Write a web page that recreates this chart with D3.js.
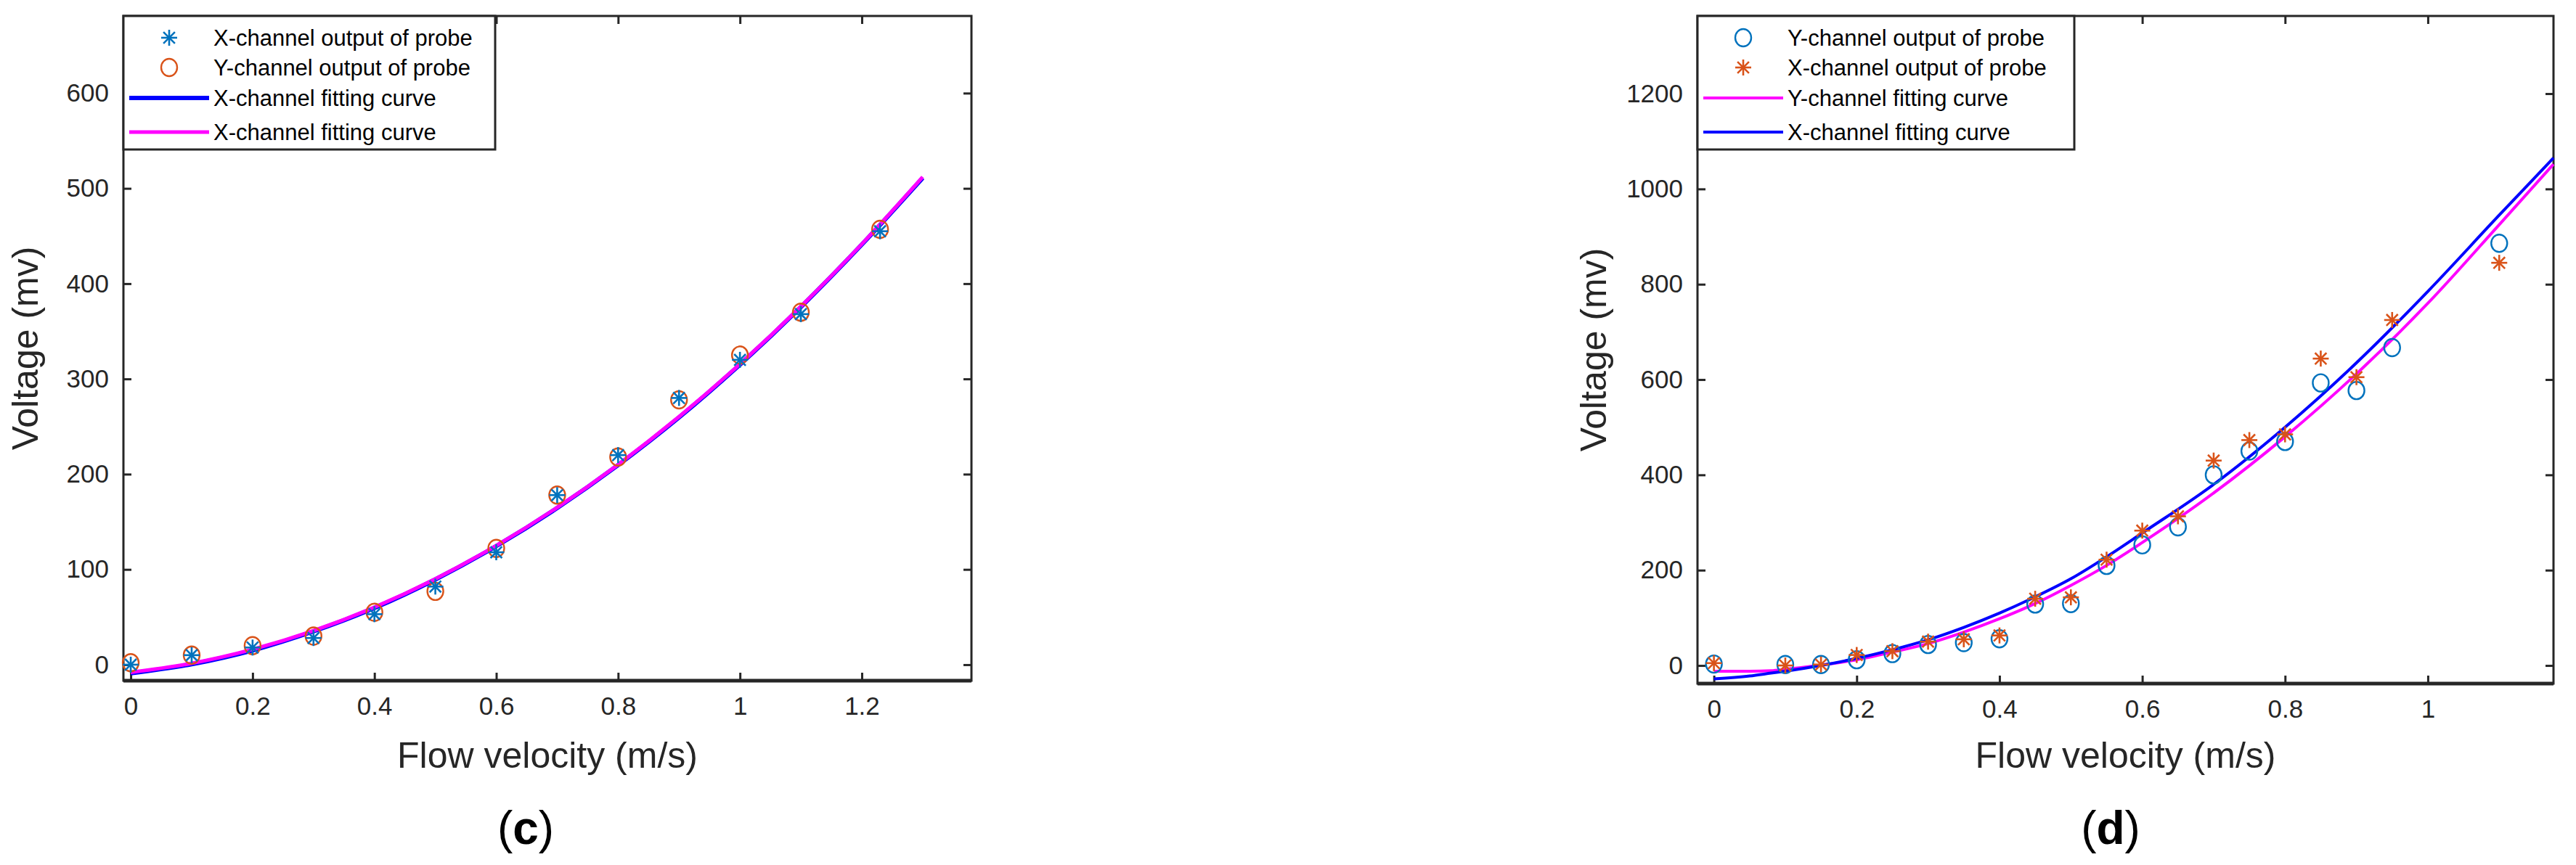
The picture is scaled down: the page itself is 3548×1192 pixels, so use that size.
<!DOCTYPE html>
<html><head><meta charset="utf-8">
<script src="https://cdn.jsdelivr.net/npm/d3@7"></script>
<style>body{margin:0;background:#fff}text{font-family:Arial,"Liberation Sans",sans-serif}</style>
</head><body>
<svg id="c" width="3548" height="1192"></svg>
<script>
// ---- panel (c) data ----
const cX = [0,0.1,0.2,0.3,0.4,0.5,0.6,0.7,0.8,0.9,1.0,1.1,1.23];
const cXch = [0,10,18,28,53,82,118,178,220,280,320,368,455];
const cYch = [2,10,20,30,55,77,122,178,218,278,325,370,457];
const cFitX = [0,0.1,0.2,0.3,0.4,0.5,0.6,0.7,0.8,0.9,1.0,1.1,1.2,1.3];
const cFitBlue = [-9,0.5,15,35,59.5,89.5,124.5,164.5,209.5,259.5,315,375.5,441,511];
const cFitMag = [-8,1.4,16,35.6,60.3,90.1,125,165,210.1,260.3,315.6,376,441.5,512];
const cXTicks = [0,0.2,0.4,0.6,0.8,1,1.2];
const cYTicks = [0,100,200,300,400,500,600];
const cLegend = ["X-channel output of probe","Y-channel output of probe","X-channel fitting curve","X-channel fitting curve"];

// ---- panel (d) data ----
const dX = [0,0.1,0.15,0.2,0.25,0.3,0.35,0.4,0.45,0.5,0.55,0.6,0.65,0.7,0.75,0.8,0.85,0.9,0.95,1.1];
const dYch = [3,2,2,12,25,44,48,56,129,130,210,253,291,400,450,470,593,577,667,886];
const dXch = [5,0,2,22,30,50,55,63,140,143,222,283,313,430,473,485,644,605,725,845];
const dFitX = [0,0.05,0.08,0.1,0.15,0.2,0.25,0.3,0.35,0.4,0.45,0.5,0.55,0.6,0.7,0.8,0.9,1.0,1.1,1.176];
const dFitBlue = [-28,-22,-16,-12,0,15,33,54,80,110,144,182,228,278,380,500,635,785,945,1065];
const dFitMag = [-12,-12,-11,-8,1,12,28,46,70,98,130,168,210,258,362,480,612,760,925,1052];
const dXTicks = [0,0.2,0.4,0.6,0.8,1];
const dYTicks = [0,200,400,600,800,1000,1200];
const dLegend = ["Y-channel output of probe","X-channel output of probe","Y-channel fitting curve","X-channel fitting curve"];

const BLUE="#0072BD", ORANGE="#D95319", LBLUE="#0000FF", MAG="#FF00FF", AX="#262626";
const svg = d3.select("#c");

function star(g,x,y,col){
  const s=11;
  const p=g.append("g").attr("transform",`translate(${x},${y})`).attr("stroke",col).attr("stroke-width",2.6);
  [[-s,0,s,0],[0,-s,0,s],[-s*0.72,-s*0.72,s*0.72,s*0.72],[-s*0.72,s*0.72,s*0.72,-s*0.72]].forEach(l=>
    p.append("line").attr("x1",l[0]).attr("y1",l[1]).attr("x2",l[2]).attr("y2",l[3]));
}
function circ(g,x,y,col){
  g.append("ellipse").attr("cx",x).attr("cy",y).attr("rx",11).attr("ry",12).attr("fill","none").attr("stroke",col).attr("stroke-width",2.4);
}

function panel(o){
  const g = svg.append("g");
  const x = d3.scaleLinear().domain(o.xd).range([o.L,o.R]);
  const y = d3.scaleLinear().domain(o.yd).range([o.B,o.T]);
  const gx = g.append("g").attr("transform",`translate(0,${o.B})`)
    .call(d3.axisBottom(x).tickValues(o.xt).tickSize(-11).tickPadding(22).tickFormat(d3.format("~g")));
  const gy = g.append("g").attr("transform",`translate(${o.L},0)`)
    .call(d3.axisLeft(y).tickValues(o.yt).tickSize(-11).tickPadding(20).tickFormat(d3.format("~g")));
  const gx2 = g.append("g").attr("transform",`translate(0,${o.T})`).call(d3.axisTop(x).tickValues(o.xt).tickSize(-11).tickFormat(""));
  const gy2 = g.append("g").attr("transform",`translate(${o.R},0)`).call(d3.axisRight(y).tickValues(o.yt).tickSize(-11).tickFormat(""));
  [gx,gy,gx2,gy2].forEach(a=>{a.select(".domain").remove();a.selectAll("line").attr("stroke",AX).attr("stroke-width",3);
    a.selectAll("text").attr("fill",AX).attr("font-size",35);});
  g.append("rect").attr("x",o.L).attr("y",o.T).attr("width",o.R-o.L).attr("height",o.B-o.T)
    .attr("fill","none").attr("stroke",AX).attr("stroke-width",3);
  g.append("line").attr("x1",o.L).attr("x2",o.R).attr("y1",o.B).attr("y2",o.B).attr("stroke",AX).attr("stroke-width",5);

  const line = d3.line().x(d=>x(d[0])).y(d=>y(d[1])).curve(d3.curveMonotoneX);
  const clip = g.append("g");
  o.lines.forEach(l=>clip.append("path").attr("d",line(o.fx.map((v,i)=>[v,l.v[i]])))
    .attr("fill","none").attr("stroke",l.c).attr("stroke-width",l.w));
  o.pts.forEach(p=>o.px.forEach((v,i)=>p.f(g,x(v),y(p.v[i]),p.c)));

  // titles
  g.append("text").attr("x",(o.L+o.R)/2).attr("y",1058).attr("text-anchor","middle").attr("font-size",50).attr("fill",AX).text("Flow velocity (m/s)");
  g.append("text").attr("transform",`translate(${o.yl},${(o.T+o.B)/2}) rotate(-90)`).attr("text-anchor","middle")
    .attr("font-size",50).attr("fill",AX).text("Voltage (mv)");
  g.append("text").attr("x",o.lab).attr("y",1163).attr("text-anchor","middle").attr("font-size",64)
    .attr("font-family","'Liberation Serif','Times New Roman',serif").attr("fill","#000")
    .html(`(<tspan font-weight="bold">${o.letter}</tspan>)`);

  // legend
  const lg = g.append("g");
  lg.append("rect").attr("x",o.L).attr("y",o.T).attr("width",o.lw).attr("height",206-o.T)
    .attr("fill","#fff").attr("stroke",AX).attr("stroke-width",3);
  const rows=[52,93,135,182];
  o.leg.forEach((t,i)=>{
    const e=o.legItems[i];
    if(e.type==="line") lg.append("line").attr("x1",o.L+8).attr("x2",o.L+118).attr("y1",rows[i]).attr("y2",rows[i]).attr("stroke",e.c).attr("stroke-width",e.w);
    else e.f(lg,o.L+63,rows[i],e.c);
    lg.append("text").attr("x",o.L+124).attr("y",rows[i]+11).attr("font-size",31).attr("fill","#000").text(t);
  });
}

panel({L:170,R:1338,T:22,B:938,xd:[-0.012,1.38],yd:[-16.8,681],xt:cXTicks,yt:cYTicks,yl:52,lab:724,letter:"c",lw:512,
  fx:cFitX,lines:[{v:cFitBlue,c:LBLUE,w:6},{v:cFitMag,c:MAG,w:5}],
  px:cX,pts:[{v:cYch,c:ORANGE,f:circ},{v:cXch,c:BLUE,f:star}],
  leg:cLegend,legItems:[{f:star,c:BLUE},{f:circ,c:ORANGE},{type:"line",c:LBLUE,w:6},{type:"line",c:MAG,w:5}]});

panel({L:2338,R:3517,T:22,B:942,xd:[-0.023,1.176],yd:[-38,1363],xt:dXTicks,yt:dYTicks,yl:2212,lab:2907,letter:"d",lw:519,
  fx:dFitX,lines:[{v:dFitMag,c:MAG,w:4},{v:dFitBlue,c:LBLUE,w:4}],
  px:dX,pts:[{v:dYch,c:BLUE,f:circ},{v:dXch,c:ORANGE,f:star}],
  leg:dLegend,legItems:[{f:circ,c:BLUE},{f:star,c:ORANGE},{type:"line",c:MAG,w:4},{type:"line",c:LBLUE,w:4}]});
</script>
</body></html>
